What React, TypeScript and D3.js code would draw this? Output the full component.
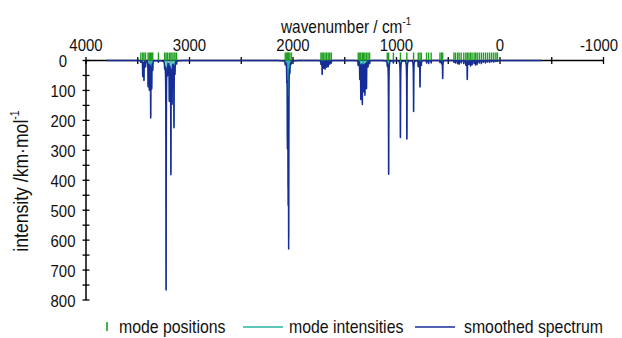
import React from 'react';
import * as d3 from 'd3';

// Mode wavenumbers (cm^-1) and IR intensities (km/mol)
const modeWavenumbers = [
  3470, 3452, 3440, 3425, 3400, 3388, 3375, 3365, 3355, 3300, 3240, 3226, 3212, 3195, 3180, 3168, 3150, 3140, 3125,
  2075, 2060, 2054, 2047, 2042, 2030, 2015,
  1730, 1718, 1705, 1690, 1675, 1660, 1645, 1630,
  1370, 1355, 1345, 1330, 1318, 1305, 1290, 1275, 1260,
  1089, 1076, 1030, 962, 900, 835, 790, 773, 760, 710, 690, 665, 580, 565, 554,
  445, 430, 410, 395, 375, 350, 330, 316, 300, 285, 270, 250, 235, 220, 200, 180, 160, 140, 120, 100, 80, 60, 40, 25,
];
const modeIntensities = [
  5, 52, 65, 20, 85, 95, 188, 90, 30, 5, 20, 765, 40, 130, 377, 138, 221, 40, 10,
  10, 50, 265, 422, 590, 30, 8,
  12, 46, 25, 28, 22, 20, 12, 8,
  15, 60, 127, 143, 100, 113, 92, 20, 10,
  15, 380, 8, 257, 262, 170, 20, 88, 15, 8, 10, 8, 6, 10, 60,
  6, 8, 10, 12, 8, 10, 15, 63, 12, 18, 14, 10, 15, 12, 8, 10, 6, 8, 5, 6, 4, 5, 3, 3,
];

const xTickLabels = [4000, 3000, 2000, 1000, 0, -1000];
const xMinorTicks = [4000, 3500, 3000, 2500, 2000, 1500, 1000, 500, 0, -500, -1000];
const yTickLabels = [0, 100, 200, 300, 400, 500, 600, 700, 800];
const yMinorTicks = [0, 50, 100, 150, 200, 250, 300, 350, 400, 450, 500, 550, 600, 650, 700, 750, 800];
const spectrumStart = 3800;
const spectrumEnd = -400;
const halfWidth = 1.5; // Lorentzian HWHM, cm^-1
const sampleStep = 0.5;

const FONT = '"Liberation Sans", Arial, Helvetica, sans-serif';
const GREEN = '#1f9f1f';
const TEAL = '#2bb3a6';
const BLUE = '#182c98';
const SX = 0.88; // condensed text look

function T(props: { x: number; y: number; size: number; anchor?: string; children: React.ReactNode; rotate?: boolean }) {
  const { x, y, size, anchor = 'start', children, rotate } = props;
  return (
    <g transform={`translate(${x},${y})${rotate ? ' rotate(-90)' : ''} scale(${SX},1)`}>
      <text x={0} y={0} fontSize={size} textAnchor={anchor as any} fill="#111">
        {children}
      </text>
    </g>
  );
}

export default function App() {
  const W = 622, H = 338;
  const x = d3.scaleLinear().domain([4000, -1000]).range([86, 603.5]);
  const y = d3.scaleLinear().domain([0, 800]).range([60.5, 300]);

  const modes = modeWavenumbers.map((w, i) => ({ w, I: modeIntensities[i] }));

  const samples: [number, number][] = [];
  for (let w = spectrumStart; w >= spectrumEnd; w -= sampleStep) {
    let s = 0;
    for (const m of modes) {
      const d = w - m.w;
      s += (m.I * halfWidth * halfWidth) / (d * d + halfWidth * halfWidth);
    }
    samples.push([w, s]);
  }
  const line = d3
    .line<[number, number]>()
    .x((d) => x(d[0]))
    .y((d) => y(d[1]));

  const y0 = y(0);

  return (
    <svg
      width={W}
      height={H}
      viewBox={`0 0 ${W} ${H}`}
      style={{ position: 'absolute', left: 0, top: 0, background: '#fff' }}
      fontFamily={FONT}
    >
      <rect width={W} height={H} fill="#fff" />
      {/* axis title top */}
      <T x={346} y={33} size={17.5} anchor="middle">
        wavenumber / cm
        <tspan fontSize={11} dy={-8}>-1</tspan>
      </T>
      {/* y axis title */}
      <T x={28} y={181} size={20} anchor="middle" rotate>
        intensity /km·mol
        <tspan fontSize={12} dy={-9}>-1</tspan>
      </T>

      {/* x axis */}
      <line x1={x(4000)} x2={x(-1000)} y1={y0} y2={y0} stroke="#000" strokeWidth={1.5} />
      {xMinorTicks.map((t) => (
        <line key={'xt' + t} x1={x(t)} x2={x(t)} y1={y0 - 3.5} y2={y0 + 3.5} stroke="#000" strokeWidth={1.3} />
      ))}
      {xTickLabels.map((t) => (
        <T key={'xl' + t} x={t === -1000 ? 599 : x(t)} y={51} size={17} anchor="middle">
          {t}
        </T>
      ))}

      {/* y axis */}
      <line x1={x(4000)} x2={x(4000)} y1={y(0)} y2={y(800)} stroke="#000" strokeWidth={1.5} />
      {yMinorTicks.map((t) => (
        <line key={'yt' + t} x1={x(4000) - 3.5} x2={x(4000) + 3.5} y1={y(t)} y2={y(t)} stroke="#000" strokeWidth={1.3} />
      ))}
      {yTickLabels.map((t) => (
        <T key={'yl' + t} x={63} y={y(t) + 6.5} size={17} anchor="middle">
          {t}
        </T>
      ))}

      {/* mode positions */}
      {modes.map((m, i) => (
        <line key={'mp' + i} x1={x(m.w)} x2={x(m.w)} y1={y0 - 8} y2={y0} stroke={GREEN} strokeWidth={1.4} />
      ))}
      {/* mode intensities */}
      {modes.map((m, i) => (
        <line key={'mi' + i} x1={x(m.w)} x2={x(m.w)} y1={y0} y2={y(m.I)} stroke={TEAL} strokeWidth={1.2} />
      ))}
      {/* smoothed spectrum */}
      <path d={line(samples) || ''} fill="none" stroke={BLUE} strokeWidth={1.5} strokeLinejoin="round" />

      {/* legend */}
      <line x1={107} x2={107} y1={322} y2={331} stroke={GREEN} strokeWidth={1.6} />
      <T x={119} y={333} size={18}>mode positions</T>
      <line x1={243} x2={283} y1={327} y2={327} stroke={TEAL} strokeWidth={1.5} />
      <T x={289} y={333} size={18}>mode intensities</T>
      <line x1={415} x2={455} y1={327} y2={327} stroke={BLUE} strokeWidth={1.5} />
      <T x={464} y={333} size={18}>smoothed spectrum</T>
    </svg>
  );
}
